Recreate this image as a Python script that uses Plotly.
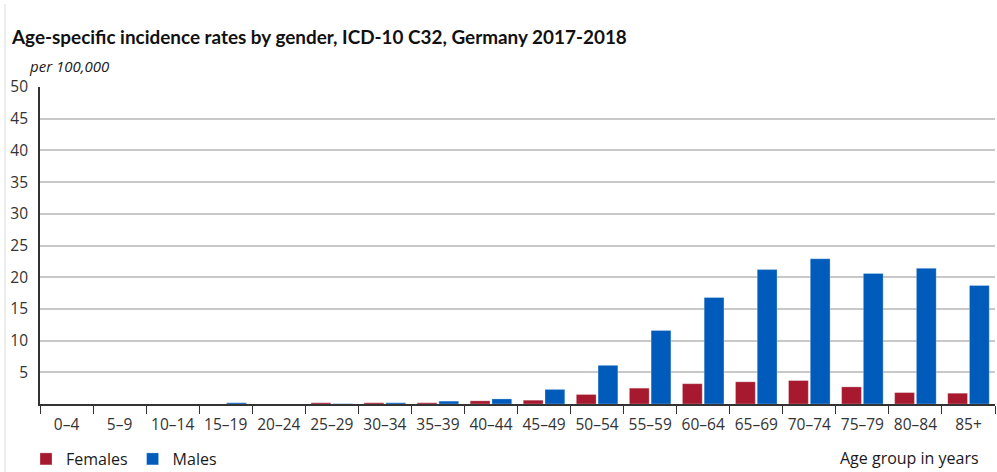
import plotly.graph_objects as go

age_groups = ["0–4", "5–9", "10–14", "15–19", "20–24", "25–29", "30–34", "35–39",
              "40–44", "45–49", "50–54", "55–59", "60–64", "65–69", "70–74", "75–79",
              "80–84", "85+"]
females = [0.0, 0.0, 0.0, 0.0, 0.0, 0.2, 0.2, 0.2, 0.5, 0.6, 1.5, 2.5, 3.2, 3.5, 3.7, 2.7, 1.8, 1.7]
males = [0.0, 0.0, 0.0, 0.2, 0.0, 0.05, 0.2, 0.45, 0.8, 2.3, 6.1, 11.6, 16.8, 21.2, 22.9, 20.6, 21.4, 18.7]
y_ticks = [5, 10, 15, 20, 25, 30, 35, 40, 45, 50]

RED = "#a6192e"
BLUE = "#005bbb"
TXT = "#1a1a1a"

W, H = 997, 472
L, R, T, B = 40, 2, 87, 68
PW, PH = W - L - R, H - T - B

def px_x(x):
    return (x - L) / PW

def px_y(y):
    return (H - B - y) / PH

fig = go.Figure()
fig.add_trace(go.Bar(name="Females", x=age_groups, y=females, marker_color=RED,
                     marker_line=dict(color="rgba(255,255,255,0.35)", width=0.8)))
fig.add_trace(go.Bar(name="Males", x=age_groups, y=males, marker_color=BLUE,
                     marker_line=dict(color="rgba(255,255,255,0.35)", width=0.8)))

fig.update_layout(
    width=W, height=H,
    margin=dict(l=L, r=R, t=T, b=B, autoexpand=False),
    paper_bgcolor="white", plot_bgcolor="white",
    barmode="group", bargap=0.18, bargroupgap=0.09,
    font=dict(family="Open Sans, Noto Sans, sans-serif", color=TXT, size=14),
    title=dict(text="<b>Age-specific incidence rates by gender, ICD-10 C32, Germany 2017-2018</b>",
               font=dict(family="Lato, sans-serif", size=18.9, color="#111"),
               x=12/W, xanchor="left", y=1-37/H, yanchor="middle"),
    showlegend=True,
    legend=dict(orientation="h", xref="container", yref="container",
                x=26/W, xanchor="left", y=1-459/H, yanchor="middle",
                font=dict(size=16, color=TXT), bgcolor="rgba(0,0,0,0)",
                itemwidth=30, traceorder="normal"),
    xaxis=dict(type="category", showgrid=False, showline=True, linecolor="#333", linewidth=1.6,
               ticks="outside", tickson="boundaries", ticklen=8, tickcolor="#333", tickwidth=1.4,
               ticklabelstandoff=6, automargin=False,
               tickfont=dict(size=15.5, color="#333"), fixedrange=True),
    yaxis=dict(range=[0, 50], tickvals=y_ticks, showgrid=True, gridcolor="#c8c8c8", gridwidth=1.5,
               showline=True, linecolor="#333", linewidth=1.6, ticks="", ticklabelstandoff=7,
               automargin=False,
               tickfont=dict(size=15.5, color="#333"), zeroline=False, fixedrange=True),
    annotations=[
        dict(text="<i>per 100,000</i>", x=px_x(27), y=px_y(66), xref="paper", yref="paper",
             xanchor="left", yanchor="middle", showarrow=False,
             font=dict(size=15, color=TXT)),
        dict(text="Age group in years", x=px_x(981), y=px_y(458), xref="paper", yref="paper",
             xanchor="right", yanchor="middle", showarrow=False,
             font=dict(size=16, color=TXT)),
    ],
)

fig.add_shape(type="line", xref="paper", yref="paper", x0=px_x(5), x1=px_x(5),
              y0=px_y(472), y1=px_y(4), line=dict(color="#dcdcdc", width=1))

fig.write_html("out.html", post_script="document.body.style.margin='0';",
               config={"displayModeBar": False})
